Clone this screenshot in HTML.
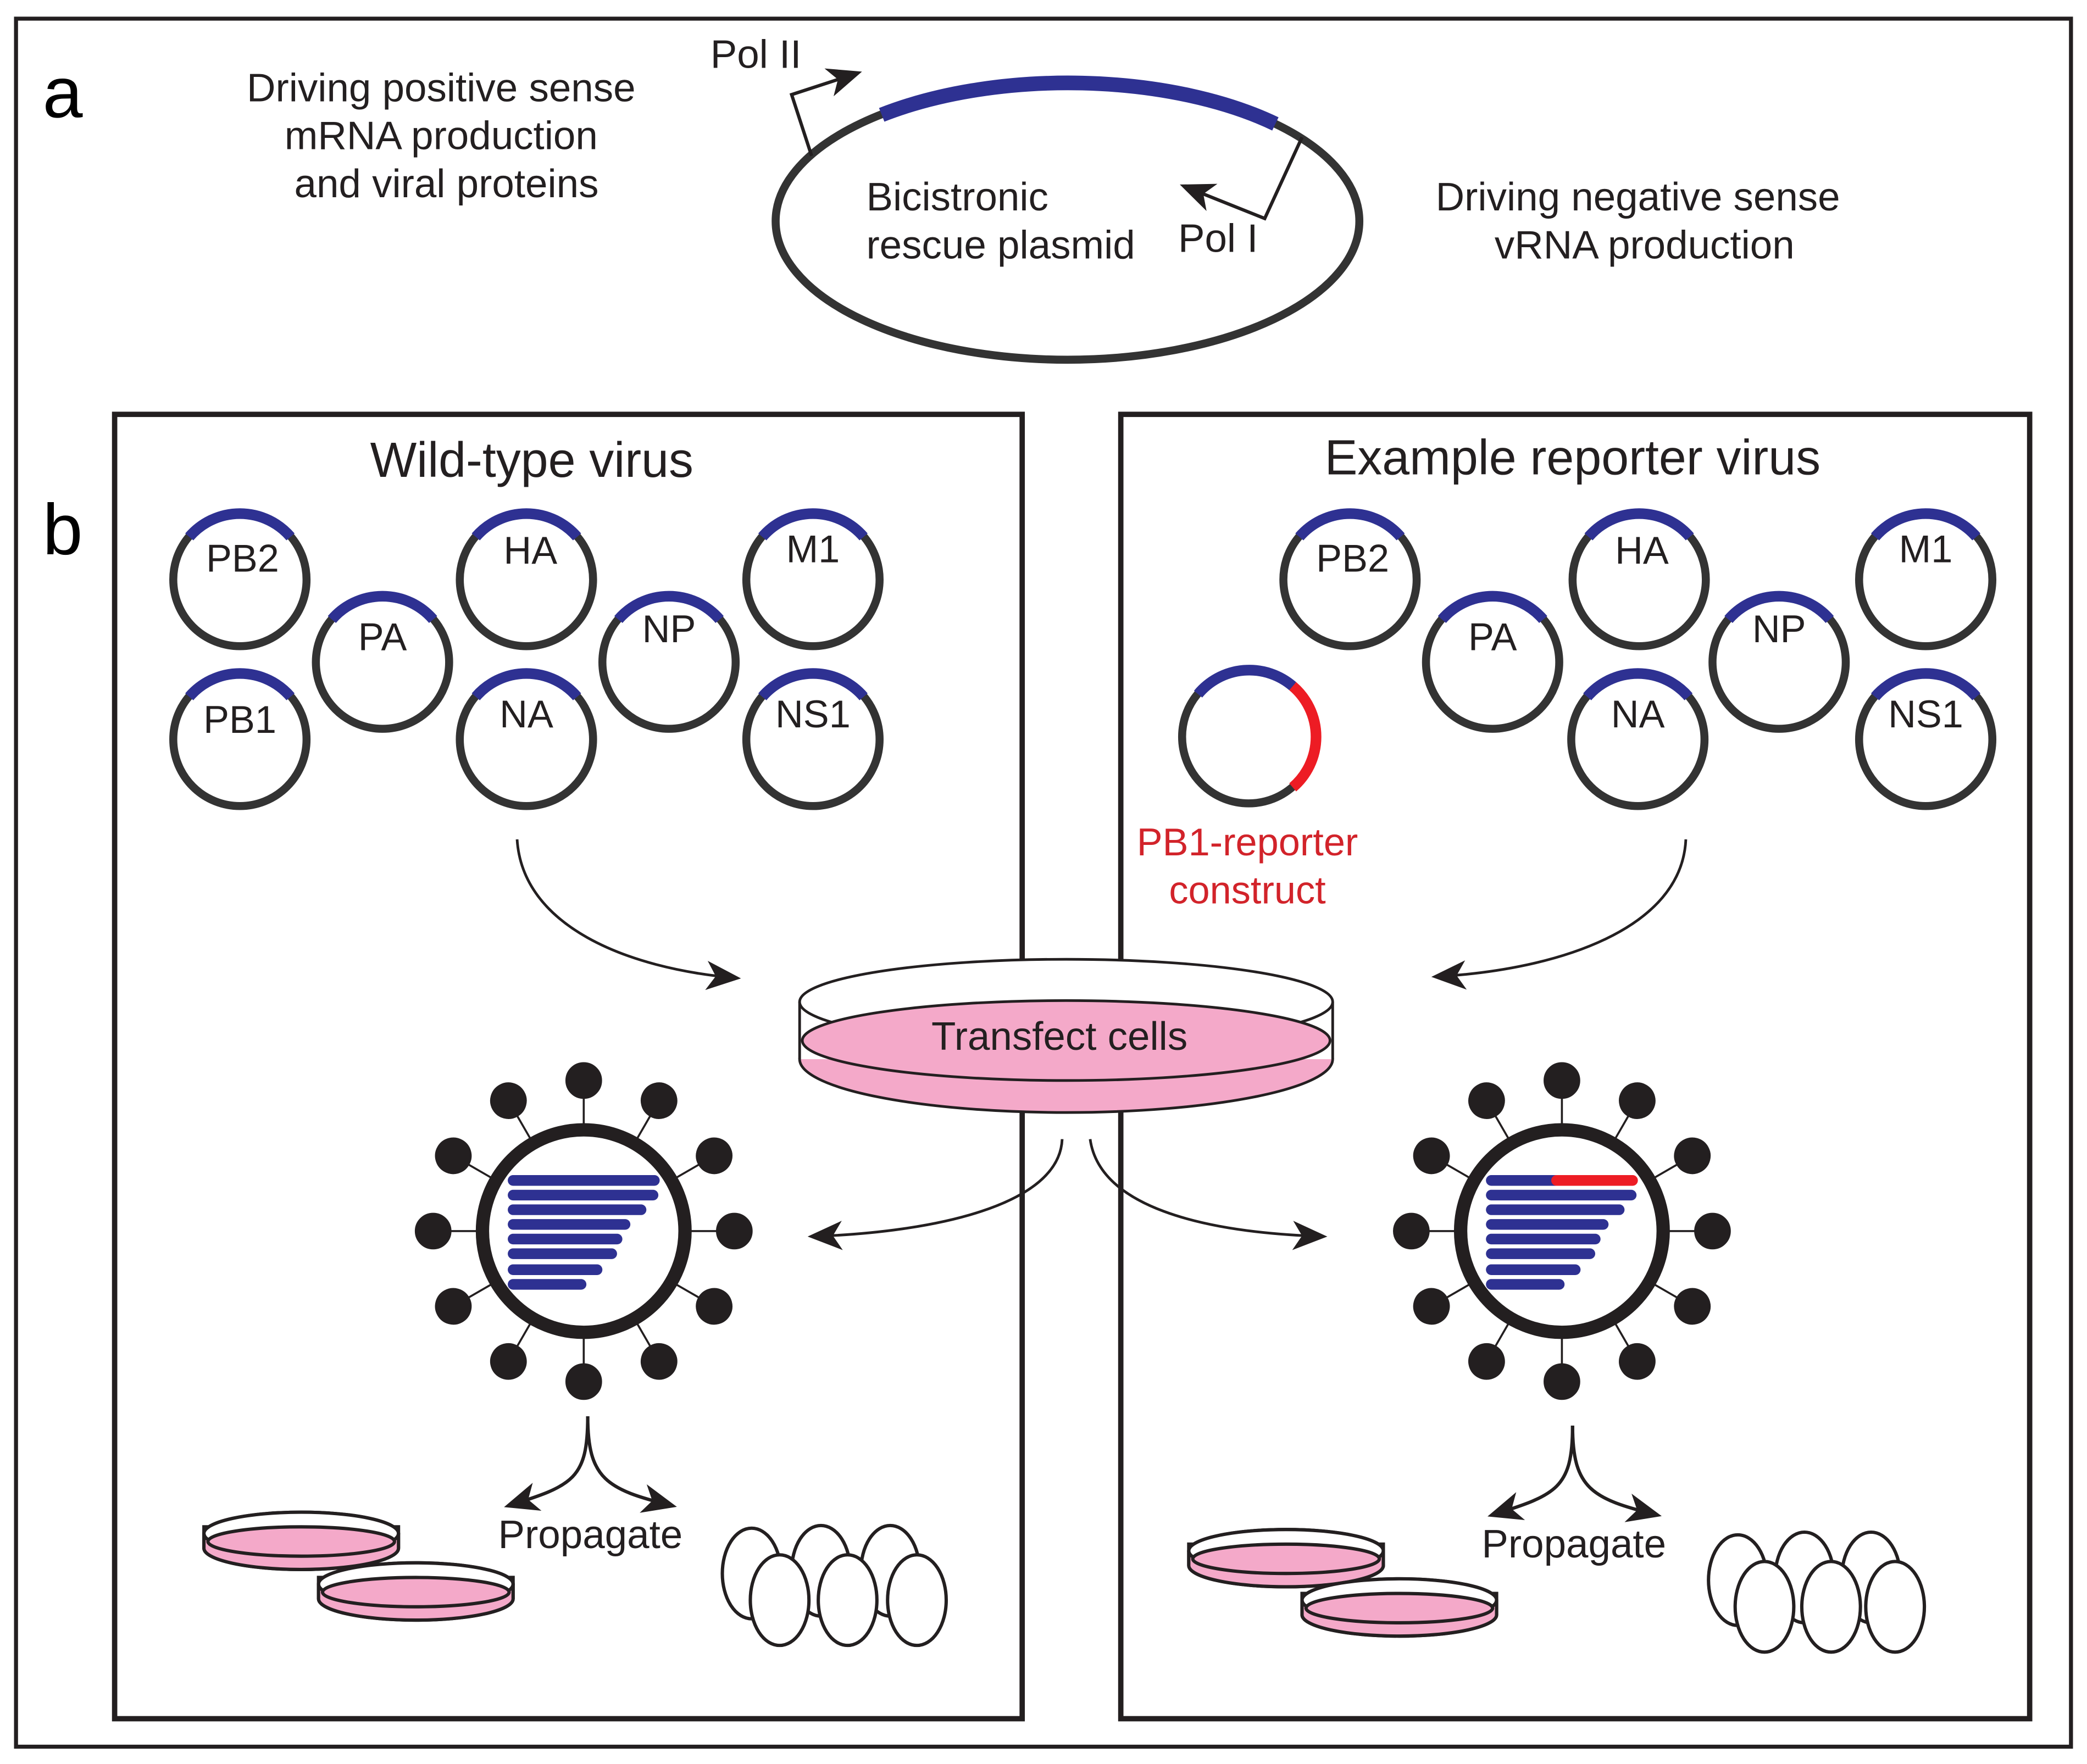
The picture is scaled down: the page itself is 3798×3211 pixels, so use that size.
<!DOCTYPE html>
<html><head><meta charset="utf-8"><style>html,body{margin:0;padding:0;background:#fff}svg{display:block}</style></head>
<body>
<svg width="3798" height="3211" viewBox="0 0 1566 1324" xmlns="http://www.w3.org/2000/svg" font-family="Liberation Sans, Arial, sans-serif">
<defs>
<marker id="ah2" markerWidth="26" markerHeight="24" refX="22" refY="12" orient="auto" markerUnits="userSpaceOnUse" viewBox="0 0 26 24">
<path d="M0,1 L26,12 L0,23 L7,12 Z" fill="#231f20"/></marker>
<g id="pl"><circle cx="0" cy="0" r="50" fill="none" stroke="#333" stroke-width="6"/><path d="M-38,-32 A50,50 0 0 1 38,-32" fill="none" stroke="#2e3192" stroke-width="8"/></g>
<g id="spk" stroke="#231f20" stroke-width="1.5">
<line x1="0" y1="-80" x2="0" y2="-113"/><circle cx="0" cy="-113" r="13" fill="#231f20"/></g>
<g id="sd" stroke="#231f20" stroke-width="2.5">
<path d="M-73,11 L-73,27 A73,16 0 0 0 73,27 L73,11 Z" fill="#f4a9c9"/>
<ellipse cx="0" cy="16" rx="73" ry="16" fill="none"/>
<ellipse cx="0" cy="16" rx="73" ry="16" fill="#fff"/>
<path d="M-73,16 A73,16 0 0 0 73,16 L73,27 A73,16 0 0 1 -73,27 Z" fill="#f4a9c9"/>
<ellipse cx="0" cy="22" rx="70" ry="11" fill="#f4a9c9"/>
</g>
</defs>
<rect x="12" y="14" width="1542" height="1297" fill="none" stroke="#231f20" stroke-width="3"/>
<text x="32" y="88" font-size="54">a</text>
<text x="32" y="416" font-size="54">b</text>
<g font-size="30" text-anchor="middle" fill="#231f20">
<text x="331" y="76">Driving positive sense</text>
<text x="331" y="112">mRNA production</text>
<text x="335" y="148">and viral proteins</text>
<text x="1229" y="158">Driving negative sense</text>
<text x="1234" y="194">vRNA production</text>
</g>
<ellipse cx="801" cy="166" rx="219" ry="104" fill="none" stroke="#333" stroke-width="6"/>
<path d="M661.6,86.2 A219,104 0 0 1 957,93" fill="none" stroke="#2e3192" stroke-width="11"/>
<path d="M609,117 L594,71 L643,55" fill="none" stroke="#231f20" stroke-width="2.5" marker-end="url(#ah2)"/>
<path d="M977,103 L949,164 L889,140" fill="none" stroke="#231f20" stroke-width="2.5" marker-end="url(#ah2)"/>
<g font-size="30" fill="#231f20">
<text x="533" y="51">Pol II</text>
<text x="884" y="189">Pol I</text>
<text x="650" y="158">Bicistronic</text>
<text x="650" y="194">rescue plasmid</text>
</g>
<rect x="86" y="311" width="681" height="979" fill="none" stroke="#231f20" stroke-width="4"/>
<rect x="841" y="311" width="682" height="979" fill="none" stroke="#231f20" stroke-width="4"/>
<text x="399" y="358" font-size="37" text-anchor="middle" fill="#231f20">Wild-type virus</text>
<text x="1180" y="356" font-size="37" text-anchor="middle" fill="#231f20">Example reporter virus</text>
<g font-size="29" text-anchor="middle" fill="#231f20">
<use href="#pl" x="180" y="435"/><text x="182" y="429">PB2</text>
<use href="#pl" x="287" y="497"/><text x="287" y="488">PA</text>
<use href="#pl" x="395" y="435"/><text x="398" y="423">HA</text>
<use href="#pl" x="502" y="497"/><text x="502" y="482">NP</text>
<use href="#pl" x="610" y="435"/><text x="610" y="422">M1</text>
<use href="#pl" x="180" y="555"/><text x="180" y="550">PB1</text>
<use href="#pl" x="395" y="555"/><text x="395" y="546">NA</text>
<use href="#pl" x="610" y="555"/><text x="610" y="546">NS1</text>
<use href="#pl" x="1013" y="435"/><text x="1015" y="429">PB2</text>
<use href="#pl" x="1120" y="497"/><text x="1120" y="488">PA</text>
<use href="#pl" x="1230" y="435"/><text x="1232" y="423">HA</text>
<use href="#pl" x="1335" y="497"/><text x="1335" y="482">NP</text>
<use href="#pl" x="1445" y="435"/><text x="1445" y="422">M1</text>
<use href="#pl" x="1229" y="555"/><text x="1229" y="546">NA</text>
<use href="#pl" x="1445" y="555"/><text x="1445" y="546">NS1</text>
</g>
<circle cx="937" cy="553" r="50" fill="none" stroke="#333" stroke-width="6"/>
<path d="M899,521 A50,50 0 0 1 970,515" fill="none" stroke="#2e3192" stroke-width="8"/>
<path d="M970,515 A50,50 0 0 1 970,591" fill="none" stroke="#ed1c24" stroke-width="8"/>
<text x="936" y="642" font-size="29" text-anchor="middle" fill="#d2232a">PB1-reporter</text>
<text x="936" y="678" font-size="29" text-anchor="middle" fill="#d2232a">construct</text>
<path d="M388,630 C392,695 470,727 552,734" fill="none" stroke="#231f20" stroke-width="2" marker-end="url(#ah2)"/>
<path d="M1265,630 C1262,697 1170,728 1078,733" fill="none" stroke="#231f20" stroke-width="2" marker-end="url(#ah2)"/>
<!-- dish -->
<ellipse cx="800" cy="795" rx="200" ry="40" fill="#f4a9c9" stroke="#231f20" stroke-width="2"/>
<rect x="600" y="752" width="400" height="43" fill="#fff"/>
<line x1="600" y1="752" x2="600" y2="795" stroke="#231f20" stroke-width="2"/>
<line x1="1000" y1="752" x2="1000" y2="795" stroke="#231f20" stroke-width="2"/>
<ellipse cx="800" cy="752" rx="200" ry="32" fill="#fff" stroke="#231f20" stroke-width="2"/>
<ellipse cx="800" cy="781" rx="198" ry="30" fill="#f4a9c9" stroke="#231f20" stroke-width="2"/>
<text x="795" y="788" font-size="30" text-anchor="middle" fill="#231f20">Transfect cells</text>
<path d="M797,855 C795,905 700,925 610,928" fill="none" stroke="#231f20" stroke-width="2" marker-end="url(#ah2)"/>
<path d="M818,855 C825,905 900,925 992,928" fill="none" stroke="#231f20" stroke-width="2" marker-end="url(#ah2)"/>
<!-- viruses -->
<g transform="translate(438,924)">
<use href="#spk" transform="rotate(0)"/><use href="#spk" transform="rotate(30)"/><use href="#spk" transform="rotate(60)"/><use href="#spk" transform="rotate(90)"/><use href="#spk" transform="rotate(120)"/><use href="#spk" transform="rotate(150)"/><use href="#spk" transform="rotate(180)"/><use href="#spk" transform="rotate(210)"/><use href="#spk" transform="rotate(240)"/><use href="#spk" transform="rotate(270)"/><use href="#spk" transform="rotate(300)"/><use href="#spk" transform="rotate(330)"/>
<circle r="76" fill="#fff" stroke="#231f20" stroke-width="10"/>
<g stroke="#2e3192" stroke-width="8" stroke-linecap="round">
<line x1="-53" y1="-38" x2="53" y2="-38"/><line x1="-53" y1="-27" x2="52" y2="-27"/><line x1="-53" y1="-16" x2="43" y2="-16"/><line x1="-53" y1="-5" x2="31" y2="-5"/><line x1="-53" y1="6" x2="25" y2="6"/><line x1="-53" y1="17" x2="21" y2="17"/><line x1="-53" y1="29" x2="10" y2="29"/><line x1="-53" y1="40" x2="-2" y2="40"/>
</g></g>
<g transform="translate(1172,924)">
<use href="#spk" transform="rotate(0)"/><use href="#spk" transform="rotate(30)"/><use href="#spk" transform="rotate(60)"/><use href="#spk" transform="rotate(90)"/><use href="#spk" transform="rotate(120)"/><use href="#spk" transform="rotate(150)"/><use href="#spk" transform="rotate(180)"/><use href="#spk" transform="rotate(210)"/><use href="#spk" transform="rotate(240)"/><use href="#spk" transform="rotate(270)"/><use href="#spk" transform="rotate(300)"/><use href="#spk" transform="rotate(330)"/>
<circle r="76" fill="#fff" stroke="#231f20" stroke-width="10"/>
<g stroke="#2e3192" stroke-width="8" stroke-linecap="round">
<line x1="-53" y1="-38" x2="-4" y2="-38"/><line x1="-53" y1="-27" x2="52" y2="-27"/><line x1="-53" y1="-16" x2="43" y2="-16"/><line x1="-53" y1="-5" x2="31" y2="-5"/><line x1="-53" y1="6" x2="25" y2="6"/><line x1="-53" y1="17" x2="21" y2="17"/><line x1="-53" y1="29" x2="10" y2="29"/><line x1="-53" y1="40" x2="-2" y2="40"/>
</g>
<line x1="-4" y1="-38" x2="53" y2="-38" stroke="#ed1c24" stroke-width="8" stroke-linecap="round"/>
</g>
<!-- propagate -->
<path d="M441,1063 C441,1110 430,1115 382,1130" fill="none" stroke="#231f20" stroke-width="2.5" marker-end="url(#ah2)"/>
<path d="M441,1063 C441,1110 455,1118 504,1130" fill="none" stroke="#231f20" stroke-width="2.5" marker-end="url(#ah2)"/>
<text x="443" y="1162" font-size="30" text-anchor="middle" fill="#231f20">Propagate</text>
<path d="M1180,1070 C1180,1117 1168,1122 1120,1137" fill="none" stroke="#231f20" stroke-width="2.5" marker-end="url(#ah2)"/>
<path d="M1180,1070 C1180,1117 1194,1125 1243,1137" fill="none" stroke="#231f20" stroke-width="2.5" marker-end="url(#ah2)"/>
<text x="1181" y="1169" font-size="30" text-anchor="middle" fill="#231f20">Propagate</text>
<use href="#sd" x="226" y="1135"/><use href="#sd" x="312" y="1173"/>
<use href="#sd" x="965" y="1148"/><use href="#sd" x="1050" y="1185"/>
<g fill="#fff" stroke="#231f20" stroke-width="2.5">
<ellipse cx="564" cy="1181" rx="22" ry="34"/><ellipse cx="616" cy="1179" rx="22" ry="34"/><ellipse cx="668" cy="1179" rx="22" ry="34"/>
<ellipse cx="585" cy="1201" rx="22" ry="34"/><ellipse cx="636" cy="1201" rx="22" ry="34"/><ellipse cx="688" cy="1201" rx="22" ry="34"/>
<ellipse cx="1304" cy="1186" rx="22" ry="34"/><ellipse cx="1354" cy="1184" rx="22" ry="34"/><ellipse cx="1404" cy="1184" rx="22" ry="34"/>
<ellipse cx="1324" cy="1206" rx="22" ry="34"/><ellipse cx="1374" cy="1206" rx="22" ry="34"/><ellipse cx="1422" cy="1206" rx="22" ry="34"/>
</g>
</svg>
</body></html>
